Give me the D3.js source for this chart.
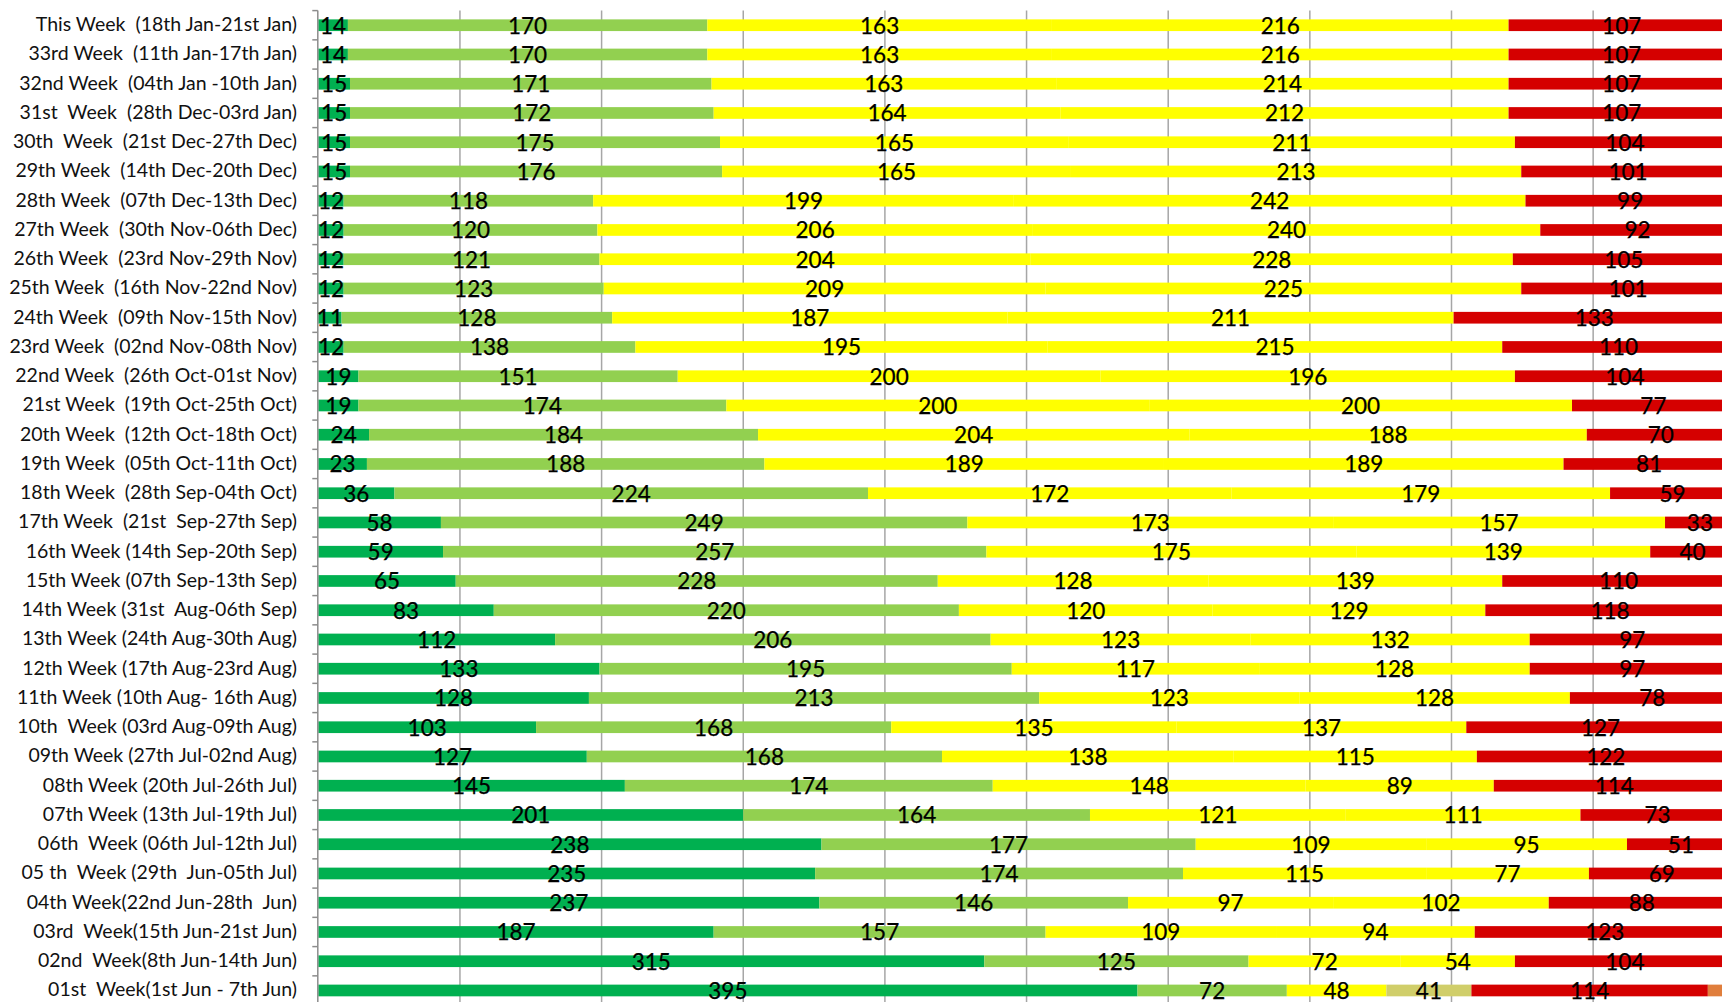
<!DOCTYPE html>
<html>
<head>
<meta charset="utf-8">
<script src="https://cdn.jsdelivr.net/npm/d3@7"></script>
<style>
  html, body { margin: 0; padding: 0; background: #ffffff; overflow: hidden; }
  svg { display: block; }
  .cat { font-family: Lato, "Open Sans", sans-serif; font-size: 19.5px; fill: #111; white-space: pre; }
  .val { font-family: Lato, "Open Sans", sans-serif; font-size: 22.5px; fill: #000; stroke: #000; stroke-width: 0.25px; }
</style>
</head>
<body>
<svg id="chart" width="1722" height="1002"></svg>
<script>
// ---------------- DATA ----------------
const categories = [
  "This Week  (18th Jan-21st Jan)",
  "33rd Week  (11th Jan-17th Jan)",
  "32nd Week  (04th Jan -10th Jan)",
  "31st  Week  (28th Dec-03rd Jan)",
  "30th  Week  (21st Dec-27th Dec)",
  "29th Week  (14th Dec-20th Dec)",
  "28th Week  (07th Dec-13th Dec)",
  "27th Week  (30th Nov-06th Dec)",
  "26th Week  (23rd Nov-29th Nov)",
  "25th Week  (16th Nov-22nd Nov)",
  "24th Week  (09th Nov-15th Nov)",
  "23rd Week  (02nd Nov-08th Nov)",
  "22nd Week  (26th Oct-01st Nov)",
  "21st Week  (19th Oct-25th Oct)",
  "20th Week  (12th Oct-18th Oct)",
  "19th Week  (05th Oct-11th Oct)",
  "18th Week  (28th Sep-04th Oct)",
  "17th Week  (21st  Sep-27th Sep)",
  "16th Week (14th Sep-20th Sep)",
  "15th Week (07th Sep-13th Sep)",
  "14th Week (31st  Aug-06th Sep)",
  "13th Week (24th Aug-30th Aug)",
  "12th Week (17th Aug-23rd Aug)",
  "11th Week (10th Aug- 16th Aug)",
  "10th  Week (03rd Aug-09th Aug)",
  "09th Week (27th Jul-02nd Aug)",
  "08th Week (20th Jul-26th Jul)",
  "07th Week (13th Jul-19th Jul)",
  "06th  Week (06th Jul-12th Jul)",
  "05 th  Week (29th  Jun-05th Jul)",
  "04th Week(22nd Jun-28th  Jun)",
  "03rd  Week(15th Jun-21st Jun)",
  "02nd  Week(8th Jun-14th Jun)",
  "01st  Week(1st Jun - 7th Jun)"
];

const series1 = [14,14,15,15,15,15,12,12,12,12,11,12,19,19,24,23,36,58,59,65,83,112,133,128,103,127,145,201,238,235,237,187,315,395];
const series2 = [170,170,171,172,175,176,118,120,121,123,128,138,151,174,184,188,224,249,257,228,220,206,195,213,168,168,174,164,177,174,146,157,125,72];
const series3 = [163,163,163,164,165,165,199,206,204,209,187,195,200,200,204,189,172,173,175,128,120,123,117,123,135,138,148,121,109,115,97,109,72,48];
const series4 = [216,216,214,212,211,213,242,240,228,225,211,215,196,200,188,189,179,157,139,139,129,132,128,128,137,115,89,111,95,77,102,94,54,41];
const series5 = [107,107,107,107,104,101,99,92,105,101,133,110,104,77,70,81,59,33,40,110,118,97,97,78,127,122,114,73,51,69,88,123,104,114];
const series6 = [0,0,0,0,0,0,0,0,0,0,0,0,0,0,0,0,0,0,0,0,0,0,0,0,0,0,0,0,0,0,0,0,0,13];

const seriesKeys = ["s1","s2","s3","s4","s5","s6"];
const seriesColors = ["#00B050","#92D050","#FFFF00","#FFFF00","#D50000","#E07E3C"];
const labelledSeries = ["s1","s2","s3","s4","s5"];
// single point with its own fill (series 4 of the first week)
const pointOverride = { category: "01st  Week(1st Jun - 7th Jun)", key: "s4", color: "#D0CE6A" };
const gridTicks = [0,0.1,0.2,0.3,0.4,0.5,0.6,0.7,0.8,0.9,1.0];

// ---------------- BUILD ----------------
const rows = categories.map((c, i) => ({
  cat: c, s1: series1[i], s2: series2[i], s3: series3[i], s4: series4[i], s5: series5[i], s6: series6[i]
}));

const stack = d3.stack().keys(seriesKeys).offset(d3.stackOffsetExpand);
const stacked = stack(rows);

const svg = d3.select("#chart");
const plotLeft = 318.3, plotWidth = 1416.5, plotTop = 10.6, plotBottom = 1005.1;

const x = d3.scaleLinear().domain([0, 1]).range([plotLeft, plotLeft + plotWidth]);
const y = d3.scaleBand().domain(categories).range([plotTop, plotBottom])
  .paddingInner(0.6).paddingOuter(0.3);

// gridlines
svg.append("g").selectAll("line").data(gridTicks.slice(1)).join("line")
  .attr("x1", d => x(d)).attr("x2", d => x(d))
  .attr("y1", plotTop).attr("y2", plotBottom)
  .attr("stroke", "#A6A6A6").attr("stroke-width", 1.5);

// bars
const colorOf = d3.scaleOrdinal().domain(seriesKeys).range(seriesColors);
const layers = svg.append("g").selectAll("g").data(stacked).join("g");
layers.selectAll("rect").data(s => s.map(d => ({ key: s.key, d }))).join("rect")
  .attr("x", o => x(o.d[0]))
  .attr("width", o => Math.max(0, x(o.d[1]) - x(o.d[0])))
  .attr("y", o => y(o.d.data.cat))
  .attr("height", y.bandwidth())
  .attr("fill", o => (o.key === pointOverride.key && o.d.data.cat === pointOverride.category)
      ? pointOverride.color : colorOf(o.key));

// axis line + ticks
const step = y.step();
const axisTicks = d3.range(categories.length + 1).map(i => plotTop + i * step);
svg.append("line")
  .attr("x1", plotLeft - 0.5).attr("x2", plotLeft - 0.5)
  .attr("y1", plotTop).attr("y2", plotBottom)
  .attr("stroke", "#8C8C8C").attr("stroke-width", 1.5);
svg.append("g").selectAll("line").data(axisTicks).join("line")
  .attr("x1", plotLeft - 6).attr("x2", plotLeft - 0.5)
  .attr("y1", d => d).attr("y2", d => d)
  .attr("stroke", "#8C8C8C").attr("stroke-width", 1.5);

// category labels
svg.append("g").selectAll("text").data(categories).join("text")
  .attr("class", "cat")
  .attr("x", 297)
  .attr("y", d => y(d) + y.bandwidth() / 2 + 6)
  .attr("text-anchor", "end")
  .text(d => d);

// value labels
const labelData = [];
stacked.forEach(s => {
  if (!labelledSeries.includes(s.key)) return;
  s.forEach(d => {
    const v = d.data[s.key];
    if (v > 0) labelData.push({ cat: d.data.cat, v, xm: (d[0] + d[1]) / 2 });
  });
});
svg.append("g").selectAll("text").data(labelData).join("text")
  .attr("class", "val")
  .attr("x", d => x(d.xm))
  .attr("y", d => y(d.cat) + y.bandwidth() / 2 + 8.5)
  .attr("text-anchor", "middle")
  .text(d => d.v);
</script>
</body>
</html>
